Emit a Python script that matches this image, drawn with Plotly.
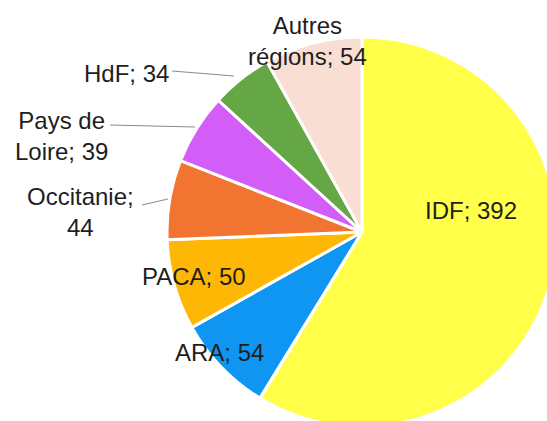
import plotly.graph_objects as go

labels = ["IDF", "ARA", "PACA", "Occitanie", "Pays de Loire", "HdF", "Autres régions"]
values = [392, 54, 50, 44, 39, 34, 54]
label_text = ["IDF", "ARA", "PACA", "Occitanie;<br>", "Pays de<br>Loire", "HdF", "Autres<br>régions"]
colors = ["#FFFF4A", "#0F96F2", "#FFB705", "#F27431", "#D25EF7", "#66A745", "#F8DED3"]

W, H = 580, 445
cx, cy, r = 362, 232, 195

fig = go.Figure(go.Pie(
    labels=labels, values=values, sort=False, direction="clockwise", rotation=0,
    marker=dict(colors=colors, line=dict(color="white", width=3)),
    textinfo="none", hoverinfo="label+value", showlegend=False,
    domain=dict(x=[(cx - r) / W, (cx + r) / W], y=[(H - cy - r) / H, (H - cy + r) / H]),
))

# label positions (pixels)
pos = {
    "IDF": (471, 210),
    "ARA": (219, 352),
    "PACA": (194, 276),
    "Occitanie": (80, 212),
    "Pays de Loire": (61, 136),
    "HdF": (126, 73),
    "Autres régions": (307, 41),
}
for lab, txt, v in zip(labels, label_text, values):
    x, y = pos[lab]
    if txt.endswith("<br>"):
        t = f"{txt}{v}"
    else:
        t = f"{txt}; {v}"
    fig.add_annotation(x=x / W, y=1 - y / H, xref="paper", yref="paper", text=t,
                       showarrow=False, xanchor="center", yanchor="middle",
                       font=dict(family="Liberation Sans, Arial, sans-serif", size=24, color="#1e1e1e"))

leaders = [((172, 71), (234, 76)), ((110, 125), (195, 127)), ((142, 205), (168, 199))]
for (x0, y0), (x1, y1) in leaders:
    fig.add_shape(type="line", xref="paper", yref="paper",
                  x0=x0 / W, y0=1 - y0 / H, x1=x1 / W, y1=1 - y1 / H,
                  line=dict(color="#8a8a8a", width=1))

fig.update_layout(width=W, height=H, margin=dict(l=0, r=0, t=0, b=0),
                  paper_bgcolor="white", plot_bgcolor="white")

fig.write_html("out.html", config={"displayModeBar": False},
               post_script="document.body.style.overflow='hidden';document.body.style.margin='0';")
